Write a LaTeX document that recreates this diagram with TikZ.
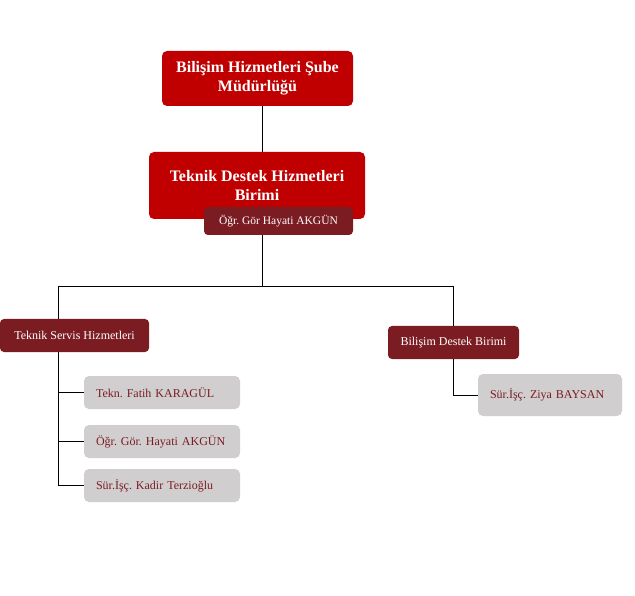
\documentclass[tikz,border=0pt]{standalone}
\usepackage{fontspec}
\setmainfont{Liberation Serif}
\frenchspacing
\definecolor{mainred}{HTML}{C00000}
\definecolor{darkred}{HTML}{7B1C23}
\definecolor{lightgray}{HTML}{D0CECE}
\begin{document}
\begin{tikzpicture}[x=1pt,y=-1pt,
  redbox/.style={fill=mainred,rounded corners=5pt,text=white,font=\fontsize{16}{19}\selectfont\bfseries,align=center,inner sep=0pt},
  darkbox/.style={fill=darkred,rounded corners=4pt,text=white,font=\fontsize{12}{14}\selectfont,align=center,inner sep=0pt,minimum height=33pt},
  graybox/.style={fill=lightgray,rounded corners=5pt,text=darkred,font=\fontsize{12}{14}\selectfont,align=left,inner xsep=12pt,inner ysep=0pt,text width=132pt,minimum height=33pt},
  conn/.style={draw=black,line width=0.9pt}]
\useasboundingbox (0,0) rectangle (635,596);
\fill[white] (0,0) rectangle (635,596);
\node[redbox,minimum width=191pt,minimum height=55pt] (top) at (257.5,78.5) {Bilişim Hizmetleri Şube\\Müdürlüğü};
\node[redbox,minimum width=216pt,minimum height=67pt] (second) at (257,185.5) {Teknik Destek Hizmetleri\\Birimi};
\node[darkbox,minimum width=149pt,minimum height=28pt,font=\fontsize{11.5}{13}\selectfont] (sub) at (278.5,221) {Öğr. Gör Hayati AKGÜN};
\node[darkbox,minimum width=149pt] (tsh) at (74.5,335.5) {Teknik Servis Hizmetleri};
\node[darkbox,minimum width=131pt] (bdb) at (453.5,342.5) {Bilişim Destek Birimi};
\node[graybox] (g1) at (162,392.5) {Tekn. Fatih KARAGÜL};
\node[graybox] (g2) at (162,441.5) {Öğr. Gör. Hayati AKGÜN};
\node[graybox] (g3) at (162,485.5) {Sür.İşç. Kadir Terzioğlu};
\node[graybox,text width=120pt,minimum height=42pt] (ziya) at (550,395) {Sür.İşç. Ziya BAYSAN};
\coordinate (trunk) at (262,286);
\coordinate (lx) at (58,286);
\coordinate (rx) at (453,286);
\draw[conn] (top.south -| trunk) -- (second.north -| trunk);
\draw[conn] (sub.south -| trunk) -- (trunk);
\draw[conn] (lx) -- (rx);
\draw[conn] (lx) -- (tsh.north -| lx);
\draw[conn] (rx) -- (bdb.north -| rx);
\draw[conn] (tsh.south -| lx) -- (g3.west -| lx) -- (g3.west);
\draw[conn] (g1.west -| lx) -- (g1.west);
\draw[conn] (g2.west -| lx) -- (g2.west);
\draw[conn] (bdb.south -| rx) -- (ziya.west -| rx) -- (ziya.west);
\end{tikzpicture}
\end{document}
